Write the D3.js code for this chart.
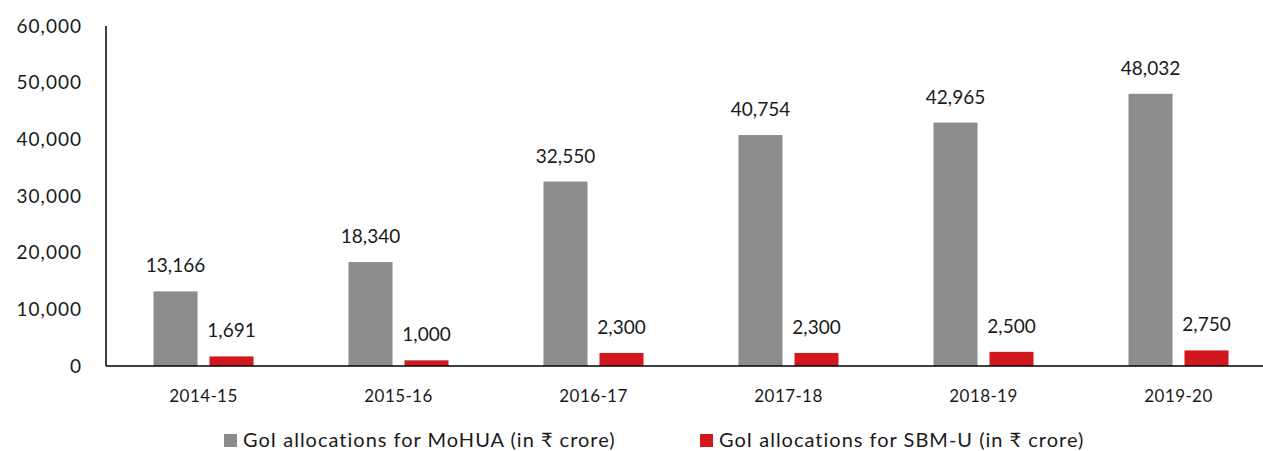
<!DOCTYPE html>
<html>
<head>
<meta charset="utf-8">
<script src="https://cdn.jsdelivr.net/npm/d3@7"></script>
<style>
  body { margin: 0; background: #fff; }
  svg text { font-family: Lato, "Noto Sans", sans-serif; fill: #1a1a1a; }
</style>
</head>
<body>
<div id="chart"></div>
<script>
var years = ["2014-15", "2015-16", "2016-17", "2017-18", "2018-19", "2019-20"];
var mohua = [13166, 18340, 32550, 40754, 42965, 48032];
var sbmu = [1691, 1000, 2300, 2300, 2500, 2750];
var seriesNames = ["GoI allocations for MoHUA (in \u20b9 crore)", "GoI allocations for SBM-U (in \u20b9 crore)"];
var seriesColors = ["#8b8c8e", "#d2171f"];
var yTicks = [0, 10000, 20000, 30000, 40000, 50000, 60000];

var W = 1263, H = 451;
var axisLeft = 106, baseY = 366, topY = 26;

var svg = d3.select("#chart").append("svg")
    .attr("width", W)
    .attr("height", H);

var x0 = d3.scaleBand()
    .domain(years)
    .range([axisLeft, axisLeft + 6 * 195])
    .paddingInner(0.487)
    .paddingOuter(0.2435);

var x1 = d3.scaleBand()
    .domain([0, 1])
    .range([0, x0.bandwidth()])
    .paddingInner(0.214);

var y = d3.scaleLinear()
    .domain([0, 60000])
    .range([baseY, topY]);

var fmt = d3.format(",");

// y axis labels (no tick marks)
var yAxis = d3.axisLeft(y).tickValues(yTicks).tickSize(0).tickPadding(24).tickFormat(fmt);
svg.append("g")
    .attr("transform", "translate(" + axisLeft + ",0)")
    .call(yAxis)
    .call(function (g) { g.select(".domain").remove(); })
    .selectAll("text")
    .style("font-size", "19px")
    .style("letter-spacing", "1px")
    .attr("fill", "#1a1a1a");

var data = years.map(function (yr, i) {
    return { year: yr, vals: [mohua[i], sbmu[i]] };
});

var groups = svg.selectAll(".grp")
    .data(data)
    .enter().append("g")
    .attr("class", "grp")
    .attr("transform", function (d) { return "translate(" + x0(d.year) + ",0)"; });

groups.selectAll("rect")
    .data(function (d) { return d.vals; })
    .enter().append("rect")
    .attr("x", function (d, i) { return x1(i); })
    .attr("y", function (d) { return y(d); })
    .attr("width", x1.bandwidth())
    .attr("height", function (d) { return baseY - y(d); })
    .attr("fill", function (d, i) { return seriesColors[i]; });

groups.selectAll("text.val")
    .data(function (d) { return d.vals; })
    .enter().append("text")
    .attr("class", "val")
    .attr("x", function (d, i) { return x1(i) + x1.bandwidth() / 2; })
    .attr("y", function (d) { return y(d) - 19; })
    .attr("text-anchor", "middle")
    .style("font-size", "19px")
    .text(function (d) { return fmt(d); });

// axis lines
svg.append("line")
    .attr("x1", axisLeft).attr("x2", axisLeft)
    .attr("y1", topY).attr("y2", baseY)
    .attr("stroke", "#000").attr("stroke-width", 1.5);
svg.append("line")
    .attr("x1", axisLeft).attr("x2", W)
    .attr("y1", baseY).attr("y2", baseY)
    .attr("stroke", "#000").attr("stroke-width", 1.5);

// x labels
var xAxis = d3.axisBottom(x0).tickSize(0).tickPadding(24);
svg.append("g")
    .attr("transform", "translate(0," + baseY + ")")
    .call(xAxis)
    .call(function (g) { g.select(".domain").remove(); })
    .selectAll("text")
    .style("font-size", "17px")
    .style("letter-spacing", "0.4px")
    .attr("fill", "#1a1a1a");

// legend
var legendX = [224, 700];
var legend = svg.selectAll(".leg")
    .data(seriesNames)
    .enter().append("g")
    .attr("class", "leg")
    .attr("transform", function (d, i) { return "translate(" + legendX[i] + ",434)"; });
legend.append("rect")
    .attr("width", 13).attr("height", 13)
    .attr("fill", function (d, i) { return seriesColors[i]; });
legend.append("text")
    .attr("x", 19).attr("y", 13)
    .style("font-size", "20px")
    .style("letter-spacing", "1px")
    .text(function (d) { return d; });
</script>
</body>
</html>
